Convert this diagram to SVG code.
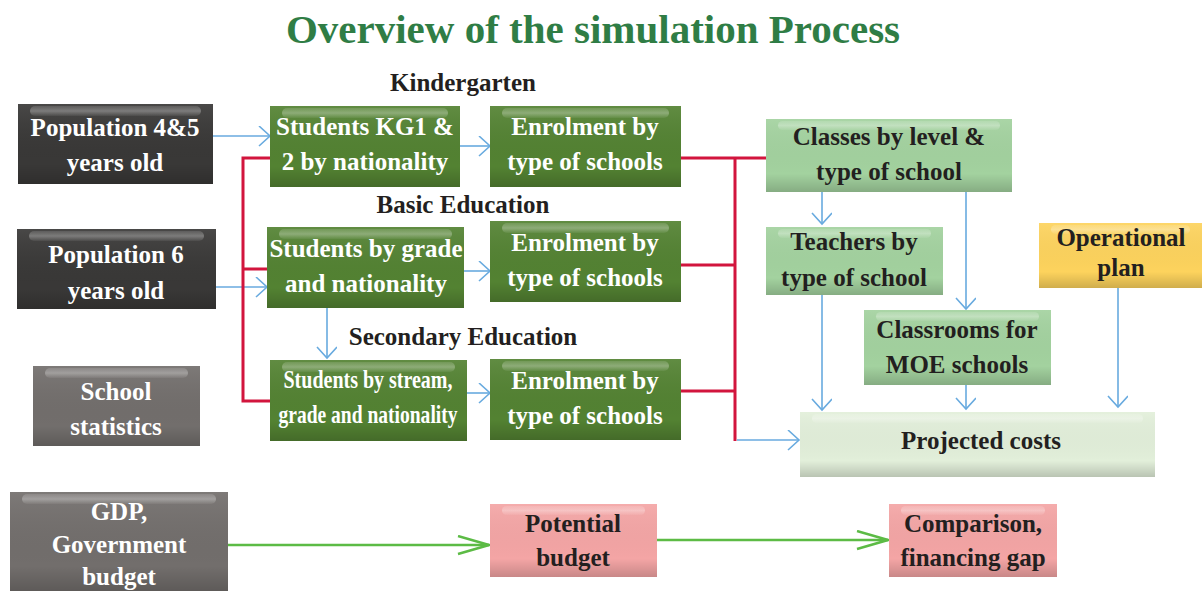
<svg xmlns="http://www.w3.org/2000/svg" width="1202" height="591" viewBox="0 0 1202 591">
<style>
text{font-family:"Liberation Serif","Times New Roman",serif;font-weight:bold;font-size:25px;text-anchor:middle}
.w{fill:#ffffff}
.d{fill:#231f20}
.title{font-size:41px;fill:#2f7d45}
.dark{fill:#393837}
.gray{fill:#726e6c}
.green{fill:#538232}
.lgreen{fill:#a3d29f}
.yellow{fill:#fdd35d}
.pink{fill:#f4a5a5}
.light{fill:#e2efda}
.blue{stroke:#68aadf;stroke-width:1.6;fill:none}
.red{stroke:#d2153d;stroke-width:3;fill:none}
.gr{stroke:#5cbb45;stroke-width:2.5;fill:none}
.hl{fill:url(#hg)}
</style>
<defs>
<linearGradient id="sh" x1="0" y1="0" x2="0" y2="1">
<stop offset="0" stop-color="#ffffff" stop-opacity="0.08"/>
<stop offset="0.75" stop-color="#000000" stop-opacity="0"/>
<stop offset="1" stop-color="#000000" stop-opacity="0.18"/>
</linearGradient>
<linearGradient id="hg" x1="0" y1="0" x2="0" y2="1">
<stop offset="0" stop-color="#ffffff" stop-opacity="0.12"/>
<stop offset="0.5" stop-color="#ffffff" stop-opacity="0.3"/>
<stop offset="1" stop-color="#ffffff" stop-opacity="0.05"/>
</linearGradient>
<marker id="ab" markerUnits="userSpaceOnUse" markerWidth="16" markerHeight="24" refX="13" refY="10" orient="auto" viewBox="0 0 16 24">
<path d="M2,0 L13,10 L2,20" fill="none" stroke="#68aadf" stroke-width="1.6"/>
</marker>
<marker id="ag" markerUnits="userSpaceOnUse" markerWidth="36" markerHeight="24" refX="33" refY="10" orient="auto" viewBox="0 0 36 24">
<path d="M2,1 L33,10 L2,19" fill="none" stroke="#5cbb45" stroke-width="2.5"/>
</marker>
</defs>
<rect width="1202" height="591" fill="#ffffff"/>
<text class="title" x="593" y="43">Overview of the simulation Process</text>
<text class="d" x="463" y="91">Kindergarten</text>
<text class="d" x="463" y="213">Basic Education</text>
<text class="d" x="463" y="345">Secondary Education</text>

<g id="connectors">
<path class="blue" marker-end="url(#ab)" d="M213,136 H270"/>
<path class="blue" marker-end="url(#ab)" d="M216,287 H267"/>
<path class="blue" marker-end="url(#ab)" d="M460,146 H490"/>
<path class="blue" marker-end="url(#ab)" d="M464,271 H490"/>
<path class="blue" marker-end="url(#ab)" d="M327,308 V358"/>
<path class="blue" marker-end="url(#ab)" d="M467,393 H490"/>
<path class="blue" marker-end="url(#ab)" d="M822,192 V224"/>
<path class="blue" marker-end="url(#ab)" d="M966,192 V309"/>
<path class="blue" marker-end="url(#ab)" d="M822,295 V410"/>
<path class="blue" marker-end="url(#ab)" d="M966,385 V409"/>
<path class="blue" marker-end="url(#ab)" d="M1118,288 V407"/>
<path class="blue" marker-end="url(#ab)" d="M737,440 H799"/>
<path class="red" d="M270,158 H243 V401 H270 M243,269 H267"/>
<path class="red" d="M681,158 H766 M735,158 V441 M681,265 H735 M681,391 H735"/>
<path class="gr" marker-end="url(#ag)" d="M228,545 H489"/>
<path class="gr" marker-end="url(#ag)" d="M657,540 H888"/>
</g>

<g id="n-pop45"><rect class="dark" x="18" y="104" width="195" height="80"/><rect fill="url(#sh)" x="18" y="104" width="195" height="80"/><rect class="hl" x="30" y="106" width="171" height="10" rx="5"/><text class="w" x="115" y="136">Population 4&amp;5</text><text class="w" x="115" y="171">years old</text></g>
<g id="n-pop6"><rect class="dark" x="17" y="229" width="199" height="80"/><rect fill="url(#sh)" x="17" y="229" width="199" height="80"/><rect class="hl" x="29" y="231" width="175" height="10" rx="5"/><text class="w" x="116" y="263">Population 6</text><text class="w" x="116" y="299">years old</text></g>
<g id="n-school"><rect class="gray" x="33" y="366" width="167" height="80"/><rect fill="url(#sh)" x="33" y="366" width="167" height="80"/><rect class="hl" x="45" y="368" width="143" height="10" rx="5"/><text class="w" x="116" y="400">School</text><text class="w" x="116" y="435">statistics</text></g>
<g id="n-gdp"><rect class="gray" x="10" y="492" width="218" height="99"/><rect fill="url(#sh)" x="10" y="492" width="218" height="99"/><rect class="hl" x="22" y="494" width="194" height="10" rx="5"/><text class="w" x="119" y="520">GDP,</text><text class="w" x="119" y="553">Government</text><text class="w" x="119" y="585">budget</text></g>

<g id="n-kg"><rect class="green" x="270" y="106" width="190" height="81"/><rect fill="url(#sh)" x="270" y="106" width="190" height="81"/><rect class="hl" x="282" y="108" width="166" height="10" rx="5"/><text class="w" x="365" y="135">Students KG1 &amp;</text><text class="w" x="365" y="170">2 by nationality</text></g>
<g id="n-grade"><rect class="green" x="267" y="227" width="197" height="81"/><rect fill="url(#sh)" x="267" y="227" width="197" height="81"/><rect class="hl" x="279" y="229" width="173" height="10" rx="5"/><text class="w" x="366" y="257">Students by grade</text><text class="w" x="366" y="292">and nationality</text></g>
<g id="n-stream"><rect class="green" x="270" y="360" width="197" height="81"/><rect fill="url(#sh)" x="270" y="360" width="197" height="81"/><rect class="hl" x="282" y="362" width="173" height="10" rx="5"/><text class="w" x="368" y="388" textLength="169" lengthAdjust="spacingAndGlyphs">Students by stream,</text><text class="w" x="368" y="423" textLength="179" lengthAdjust="spacingAndGlyphs">grade and nationality</text></g>

<g id="n-enr1"><rect class="green" x="490" y="106" width="191" height="81"/><rect fill="url(#sh)" x="490" y="106" width="191" height="81"/><rect class="hl" x="502" y="108" width="167" height="10" rx="5"/><text class="w" x="585" y="135">Enrolment by</text><text class="w" x="585" y="170">type of schools</text></g>
<g id="n-enr2"><rect class="green" x="490" y="221" width="191" height="81"/><rect fill="url(#sh)" x="490" y="221" width="191" height="81"/><rect class="hl" x="502" y="223" width="167" height="10" rx="5"/><text class="w" x="585" y="251">Enrolment by</text><text class="w" x="585" y="286">type of schools</text></g>
<g id="n-enr3"><rect class="green" x="490" y="359" width="191" height="81"/><rect fill="url(#sh)" x="490" y="359" width="191" height="81"/><rect class="hl" x="502" y="361" width="167" height="10" rx="5"/><text class="w" x="585" y="389">Enrolment by</text><text class="w" x="585" y="424">type of schools</text></g>

<g id="n-classes"><rect class="lgreen" x="766" y="119" width="246" height="73"/><rect fill="url(#sh)" x="766" y="119" width="246" height="73"/><rect class="hl" x="778" y="121" width="222" height="9" rx="4.5"/><text class="d" x="889" y="145">Classes by level &amp;</text><text class="d" x="889" y="180">type of school</text></g>
<g id="n-teachers"><rect class="lgreen" x="766" y="227" width="177" height="68"/><rect fill="url(#sh)" x="766" y="227" width="177" height="68"/><rect class="hl" x="778" y="229" width="153" height="9" rx="4.5"/><text class="d" x="854" y="250">Teachers by</text><text class="d" x="854" y="286">type of school</text></g>
<g id="n-classrooms"><rect class="lgreen" x="864" y="310" width="187" height="75"/><rect fill="url(#sh)" x="864" y="310" width="187" height="75"/><rect class="hl" x="876" y="312" width="163" height="9" rx="4.5"/><text class="d" x="957" y="338">Classrooms for</text><text class="d" x="957" y="373">MOE schools</text></g>
<g id="n-operational"><rect class="yellow" x="1039" y="223" width="163" height="65"/><rect fill="url(#sh)" x="1039" y="223" width="163" height="65"/><rect class="hl" x="1051" y="225" width="139" height="9" rx="4.5"/><text class="d" x="1121" y="246">Operational</text><text class="d" x="1121" y="276">plan</text></g>
<g id="n-projected"><rect class="light" x="800" y="412" width="355" height="65"/><rect fill="url(#sh)" x="800" y="412" width="355" height="65"/><rect class="hl" x="812" y="414" width="331" height="9" rx="4.5"/><text class="d" x="981" y="449">Projected costs</text></g>

<g id="n-potential"><rect class="pink" x="490" y="504" width="167" height="73"/><rect fill="url(#sh)" x="490" y="504" width="167" height="73"/><rect class="hl" x="502" y="506" width="143" height="9" rx="4.5"/><text class="d" x="573" y="532">Potential</text><text class="d" x="573" y="566">budget</text></g>
<g id="n-comparison"><rect class="pink" x="889" y="504" width="168" height="73"/><rect fill="url(#sh)" x="889" y="504" width="168" height="73"/><rect class="hl" x="901" y="506" width="144" height="9" rx="4.5"/><text class="d" x="973" y="532">Comparison,</text><text class="d" x="973" y="566">financing gap</text></g>
</svg>
